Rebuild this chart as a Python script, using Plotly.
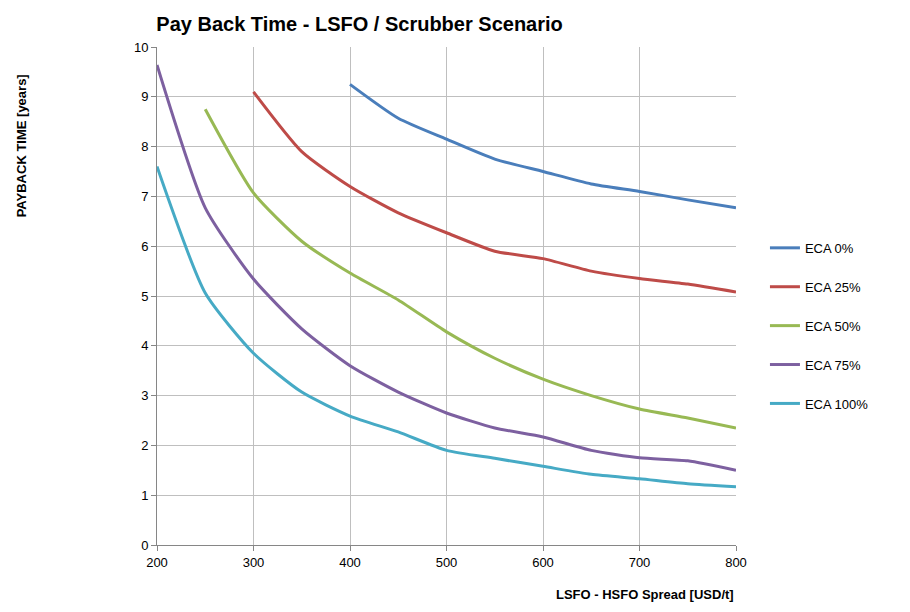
import plotly.graph_objects as go

spread = [200, 250, 300, 350, 400, 450, 500, 550, 600, 650, 700, 750, 800]

eca_0 = [None, None, None, None, 9.25, 8.57, 8.15, 7.75, 7.5, 7.25, 7.1, 6.93, 6.77]
eca_25 = [None, None, 9.1, 7.9, 7.2, 6.67, 6.27, 5.9, 5.75, 5.5, 5.35, 5.24, 5.08]
eca_50 = [None, 8.75, 7.07, 6.1, 5.46, 4.92, 4.28, 3.75, 3.33, 3.0, 2.73, 2.55, 2.35]
eca_75 = [9.64, 6.77, 5.34, 4.34, 3.6, 3.07, 2.65, 2.35, 2.17, 1.9, 1.75, 1.69, 1.5]
eca_100 = [7.6, 5.06, 3.85, 3.07, 2.59, 2.27, 1.9, 1.74, 1.58, 1.42, 1.33, 1.23, 1.17]

series = [
    ("ECA 0%", eca_0, "#4A7EBB"),
    ("ECA 25%", eca_25, "#BE4B48"),
    ("ECA 50%", eca_50, "#98B954"),
    ("ECA 75%", eca_75, "#7D60A0"),
    ("ECA 100%", eca_100, "#46AAC5"),
]

fig = go.Figure()
for name, vals, col in series:
    fig.add_trace(go.Scatter(x=spread, y=vals, name=name, mode="lines", legendgroup=name,
                             line=dict(color=col, width=3, shape="spline", smoothing=0.6)))

fig.update_layout(
    width=910, height=612,
    paper_bgcolor="white", plot_bgcolor="white",
    font=dict(family="Liberation Sans, Arial", size=13, color="black"),
    margin=dict(l=149, r=182, t=39, b=75),
    title=dict(text="<b>Pay Back Time - LSFO / Scrubber Scenario</b>", x=0.163, xanchor="left",
               y=0.985, yanchor="top", font=dict(size=20)),
    legend=dict(x=1.05, y=0.44, yanchor="middle", font=dict(size=13), tracegroupgap=19,
                bgcolor="rgba(0,0,0,0)"),
)
fig.update_xaxes(range=[200, 800], dtick=100, showgrid=True, gridcolor="#BFBFBF",
                 showline=True, linecolor="#868686", ticks="outside", ticklen=5, tickcolor="#868686",
                 zeroline=False)
fig.update_yaxes(range=[0, 10], dtick=1, showgrid=True, gridcolor="#BFBFBF",
                 showline=True, linecolor="#868686", ticks="outside", ticklen=5, tickcolor="#868686",
                 zeroline=False)
fig.add_annotation(text="<b>LSFO - HSFO Spread [USD/t]</b>", xref="paper", yref="paper",
                   x=1.0, y=-0.1, xanchor="right", yanchor="middle", showarrow=False,
                   font=dict(size=13))
fig.add_annotation(text="<b>PAYBACK TIME [years]</b>", xref="paper", yref="paper",
                   x=-0.235, y=0.95, xanchor="center", yanchor="top", textangle=-90,
                   showarrow=False, font=dict(size=13))

fig.write_html("out.html")
